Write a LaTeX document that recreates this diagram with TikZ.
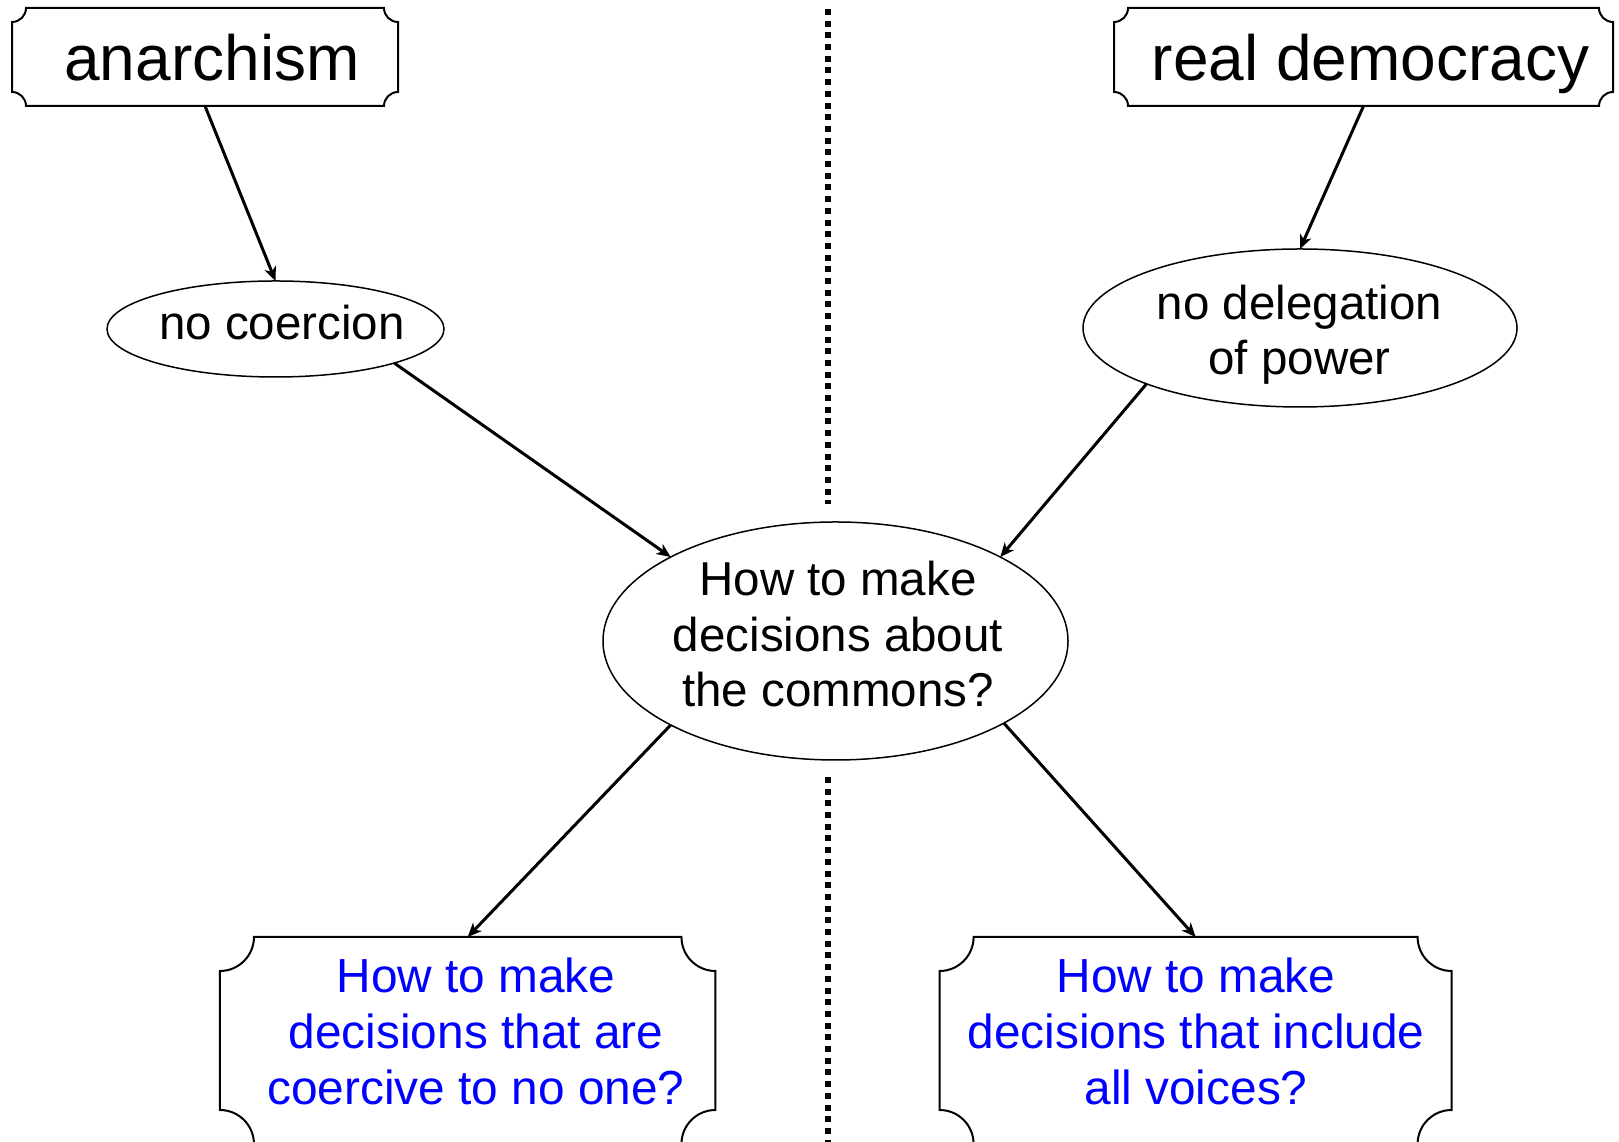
\documentclass[tikz,border=0pt]{standalone}
\usepackage{fontspec}
\setmainfont{Liberation Sans}
\usetikzlibrary{arrows.meta,shapes.geometric,calc}
\definecolor{qblue}{RGB}{0,0,255}
\newcommand\ticketframe[2]{%
  \draw[boxline] ([xshift=#2]#1.north west) -- ([xshift=-#2]#1.north east)
    arc[start angle=180,end angle=270,radius=#2]
    -- ([yshift=#2]#1.south east)
    arc[start angle=90,end angle=180,radius=#2]
    -- ([xshift=#2]#1.south west)
    arc[start angle=0,end angle=90,radius=#2]
    -- ([yshift=-#2]#1.north west)
    arc[start angle=270,end angle=360,radius=#2] -- cycle;}
\tikzset{
  boxline/.style={draw=black,line width=2pt,line join=miter},
  boxnode/.style={rectangle,inner sep=0pt,outer sep=0pt},
  titlebox/.style={boxnode,font=\fontsize{64pt}{75pt}\selectfont,text height=48pt,text depth=0pt,minimum height=98pt},
  ellnode/.style={ellipse,draw=black,line width=1.5pt,inner sep=0pt,outer sep=0pt},
  etext/.style={font=\fontsize{47.5pt}{55.5pt}\selectfont,align=center,inner sep=0pt},
  btext/.style={font=\fontsize{47.8pt}{56pt}\selectfont,align=center,inner sep=0pt,text=qblue},
  arr/.style={line width=3pt,-{Stealth[length=14pt,width=12pt,inset=4pt]}},
  divider/.style={line width=6pt,dash pattern=on 6pt off 5.7pt}
}
\begin{document}
\begin{tikzpicture}[x=1pt,y=1pt]
\useasboundingbox (0,0) rectangle (1619,1142);
% dividers
\draw[divider] (828,1133) -- (828,638);
\draw[divider] (828,365) -- (828,-5);
% title boxes
\node[titlebox,minimum width=386pt] (anar) at (205,1085) {\hspace*{14pt}anarchism};
\ticketframe{anar}{14pt}
\node[titlebox,minimum width=499pt] (rd) at (1363.5,1085) {\hspace*{14pt}real democracy};
\ticketframe{rd}{14pt}
% ellipses
\node[ellnode,minimum width=337pt,minimum height=96pt] (nc) at (275.5,813) {};
\node[etext,anchor=base] (nc-t) at (282,802) {no coercion};
\node[ellnode,minimum width=434pt,minimum height=158pt] (nd) at (1300,814) {};
\node[etext] (nd-t) at (1299.5,807.5) {no delegation\\of power};
\node[ellnode,minimum width=465pt,minimum height=238pt] (q) at (835.5,501) {};
\node[etext] (q-t) at (838,507.5) {How to make\\decisions about\\the commons?};
% bottom boxes
\node[boxnode,minimum width=495.5pt,minimum height=207pt] (bl) at (467.7,101.5) {};
\ticketframe{bl}{34pt}
\node[btext] (bl-t) at (476,110.5) {How to make\\decisions that are\\coercive to no one?};
\node[boxnode,minimum width=512pt,minimum height=207pt] (br) at (1195.6,101.5) {};
\ticketframe{br}{34pt}
\node[btext] (br-t) at (1196,110.5) {How to make\\decisions that include\\all voices?};
% connectors
\draw[arr] (anar.south) -- (nc.north);
\draw[arr] (rd.south) -- (nd.north);
\draw[arr] (nc.-16) -- (q.153.4);
\draw[arr] (nd.200) -- (q.27.4);
\draw[arr] (q.207.5) -- (bl.north);
\draw[arr] (q.-26.6) -- (br.north);
\end{tikzpicture}
\end{document}
